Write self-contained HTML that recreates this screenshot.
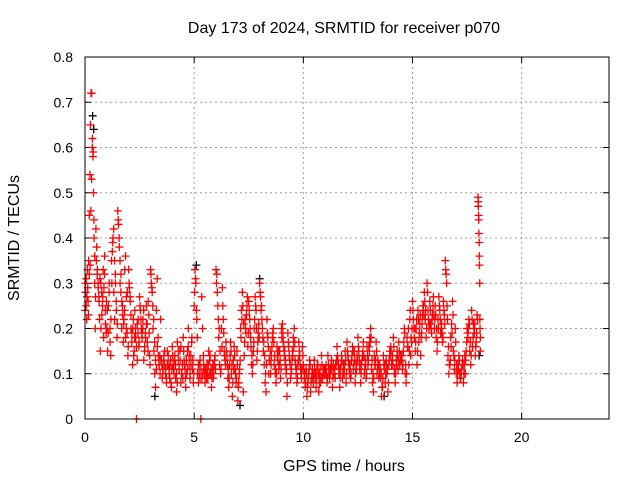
<!DOCTYPE html>
<html><head><meta charset="utf-8">
<style>
html,body{margin:0;padding:0;background:#fff;}
svg{display:block;font-family:"Liberation Sans",sans-serif;}
</style></head>
<body>
<svg id="chart" width="640" height="480" viewBox="0 0 640 480">
<text x="344" y="33" font-size="16" text-anchor="middle">Day 173 of 2024, SRMTID for receiver p070</text>
<text x="19" y="238" font-size="16" text-anchor="middle" transform="rotate(-90 19 238)">SRMTID / TECUs</text>
<text x="344" y="471" font-size="16" text-anchor="middle">GPS time / hours</text>
<g id="grid"></g>
<g id="ticks"></g>
<g id="black-series"></g>
<g id="red-series"></g>
<rect x="85" y="57" width="524" height="362" fill="none" stroke="#000" stroke-width="1"/>
</svg>
<script>
const xTicks = [0,5,10,15,20];
const yTicks = [0,0.1,0.2,0.3,0.4,0.5,0.6,0.7,0.8];
const binWidth = 0.5;
// red series values (first pass), half-hour bins starting at 0h
const redBins = [
 [0.24,0.28,0.31,0.22,0.33,0.26,0.35,0.45,0.54,0.65,0.72,0.72,0.6,0.58,0.5,0.4,0.3,0.2],
 [0.42,0.38,0.33,0.3,0.27,0.22,0.15,0.3,0.28,0.25,0.33,0.29,0.36,0.24,0.19],
 [0.2,0.15,0.25,0.3,0.2,0.14,0.35,0.37,0.4,0.28,0.22,0.32,0.26,0.18],
 [0.46,0.43,0.38,0.3,0.28,0.2,0.25,0.17,0.22,0.33,0.36,0.27,0.19,0.14],
 [0.33,0.29,0.26,0.2,0.17,0.12,0.22,0.15,0.24,0.18,0.0,0.21,0.19,0.16],
 [0.27,0.24,0.2,0.18,0.22,0.13,0.16,0.19,0.25,0.21,0.15,0.23,0.14],
 [0.33,0.3,0.28,0.2,0.15,0.1,0.07,0.24,0.31,0.18,0.12,0.14,0.22],
 [0.13,0.09,0.11,0.14,0.12,0.1,0.08,0.15,0.12,0.11,0.09,0.13,0.07],
 [0.16,0.12,0.1,0.14,0.09,0.06,0.17,0.13,0.11,0.15,0.08,0.1,0.12],
 [0.18,0.13,0.11,0.07,0.1,0.15,0.2,0.12,0.09,0.14,0.17,0.11,0.08],
 [0.25,0.33,0.3,0.22,0.1,0.08,0.12,0.09,0.0,0.27,0.2,0.14,0.11],
 [0.08,0.1,0.12,0.09,0.15,0.13,0.1,0.07,0.11,0.09,0.12,0.14],
 [0.33,0.32,0.25,0.18,0.12,0.1,0.2,0.29,0.22,0.15,0.13,0.17],
 [0.14,0.09,0.07,0.12,0.17,0.1,0.05,0.13,0.16,0.11,0.08,0.15],
 [0.04,0.08,0.11,0.2,0.24,0.28,0.06,0.14,0.22,0.19,0.25,0.16],
 [0.26,0.22,0.18,0.12,0.1,0.15,0.2,0.27,0.24,0.13,0.17,0.21],
 [0.3,0.27,0.25,0.2,0.15,0.12,0.08,0.06,0.22,0.18,0.1,0.13],
 [0.1,0.14,0.18,0.2,0.12,0.1,0.08,0.16,0.13,0.11,0.15,0.09],
 [0.2,0.21,0.17,0.14,0.12,0.1,0.05,0.19,0.16,0.13,0.09,0.11],
 [0.15,0.18,0.2,0.13,0.1,0.08,0.12,0.17,0.14,0.11,0.09,0.16],
 [0.12,0.09,0.07,0.11,0.05,0.08,0.1,0.13,0.06,0.09,0.11,0.08],
 [0.13,0.09,0.07,0.11,0.12,0.06,0.1,0.08,0.14,0.09,0.11,0.1],
 [0.1,0.12,0.08,0.14,0.1,0.09,0.11,0.13,0.07,0.12,0.1,0.09],
 [0.12,0.16,0.13,0.1,0.07,0.11,0.14,0.09,0.12,0.1,0.15,0.08],
 [0.17,0.14,0.12,0.1,0.09,0.13,0.16,0.11,0.15,0.08,0.12,0.14],
 [0.18,0.15,0.11,0.08,0.12,0.14,0.17,0.1,0.13,0.09,0.16,0.12],
 [0.16,0.18,0.2,0.11,0.08,0.06,0.14,0.12,0.17,0.1,0.13,0.09],
 [0.12,0.09,0.05,0.07,0.14,0.11,0.08,0.13,0.1,0.06,0.12,0.15],
 [0.16,0.12,0.14,0.18,0.1,0.08,0.13,0.15,0.11,0.17,0.12,0.14],
 [0.13,0.11,0.15,0.2,0.1,0.08,0.18,0.16,0.12,0.22,0.14,0.17],
 [0.26,0.22,0.18,0.15,0.2,0.12,0.24,0.17,0.21,0.14,0.19,0.23],
 [0.25,0.28,0.22,0.18,0.3,0.24,0.2,0.26,0.21,0.19,0.23,0.27],
 [0.2,0.25,0.18,0.15,0.22,0.27,0.24,0.19,0.21,0.17,0.26,0.23],
 [0.35,0.32,0.25,0.14,0.1,0.12,0.18,0.21,0.26,0.15,0.11,0.2],
 [0.1,0.08,0.12,0.14,0.1,0.09,0.11,0.13,0.08,0.12,0.1,0.15],
 [0.2,0.18,0.22,0.15,0.12,0.24,0.16,0.21,0.19,0.14,0.17,0.23],
 [0.49,0.48,0.45,0.41,0.39,0.34,0.3,0.2,0.15]
];
// red series values (second pass, offset within each bin)
const redBinsB = [
 [0.3,0.25,0.27,0.29,0.23,0.32,0.34,0.46,0.53,0.62,0.59,0.44,0.36,0.27],
 [0.35,0.32,0.29,0.26,0.31,0.2,0.23,0.27,0.18,0.32,0.21,0.26],
 [0.24,0.19,0.28,0.17,0.22,0.3,0.39,0.42,0.35,0.3,0.24,0.21],
 [0.44,0.4,0.35,0.32,0.26,0.23,0.21,0.24,0.18,0.2,0.28,0.16],
 [0.3,0.27,0.23,0.19,0.2,0.14,0.18,0.2,0.16,0.13,0.22,0.17],
 [0.25,0.22,0.19,0.2,0.24,0.15,0.18,0.21,0.17,0.26,0.19,0.12],
 [0.32,0.29,0.25,0.22,0.17,0.13,0.11,0.16,0.14,0.12,0.1,0.13],
 [0.12,0.1,0.13,0.15,0.11,0.09,0.12,0.14,0.1,0.12,0.08,0.11],
 [0.14,0.11,0.13,0.12,0.1,0.08,0.15,0.11,0.13,0.16,0.1,0.09],
 [0.15,0.12,0.09,0.13,0.11,0.16,0.14,0.1,0.12,0.18,0.13,0.1],
 [0.28,0.31,0.24,0.18,0.12,0.1,0.13,0.11,0.09,0.1,0.12,0.1],
 [0.11,0.09,0.1,0.12,0.1,0.14,0.11,0.09,0.12,0.1,0.13,0.11],
 [0.3,0.28,0.22,0.2,0.15,0.11,0.16,0.25,0.19,0.14,0.12,0.15],
 [0.12,0.11,0.09,0.14,0.15,0.12,0.08,0.11,0.14,0.1,0.09,0.12],
 [0.07,0.1,0.13,0.18,0.22,0.25,0.21,0.17,0.2,0.23,0.27,0.19],
 [0.24,0.2,0.16,0.14,0.12,0.17,0.22,0.25,0.2,0.15,0.19,0.18],
 [0.28,0.24,0.22,0.18,0.17,0.14,0.1,0.12,0.19,0.16,0.13,0.15],
 [0.12,0.16,0.19,0.17,0.14,0.11,0.1,0.14,0.15,0.12,0.13,0.11],
 [0.18,0.19,0.16,0.15,0.13,0.11,0.08,0.17,0.14,0.12,0.1,0.13],
 [0.14,0.16,0.17,0.12,0.11,0.09,0.13,0.15,0.12,0.1,0.11,0.14],
 [0.11,0.1,0.08,0.1,0.07,0.09,0.11,0.12,0.08,0.1,0.09,0.1],
 [0.11,0.1,0.09,0.12,0.1,0.08,0.11,0.09,0.12,0.1,0.1,0.11],
 [0.11,0.1,0.09,0.12,0.11,0.1,0.12,0.11,0.09,0.1,0.11,0.12],
 [0.13,0.14,0.12,0.11,0.09,0.12,0.13,0.1,0.11,0.12,0.13,0.1],
 [0.15,0.13,0.11,0.12,0.1,0.14,0.15,0.12,0.13,0.1,0.11,0.13],
 [0.16,0.13,0.12,0.1,0.13,0.15,0.14,0.11,0.12,0.1,0.14,0.13],
 [0.15,0.17,0.18,0.13,0.1,0.09,0.12,0.13,0.15,0.11,0.12,0.1],
 [0.11,0.1,0.07,0.09,0.12,0.12,0.1,0.12,0.11,0.08,0.13,0.14],
 [0.15,0.13,0.12,0.16,0.11,0.1,0.12,0.14,0.13,0.15,0.14,0.13],
 [0.14,0.12,0.17,0.19,0.12,0.1,0.16,0.2,0.15,0.24,0.18,0.2],
 [0.24,0.2,0.2,0.17,0.22,0.15,0.22,0.19,0.23,0.18,0.21,0.25],
 [0.23,0.26,0.24,0.2,0.28,0.22,0.21,0.24,0.2,0.22,0.25,0.23],
 [0.22,0.23,0.2,0.17,0.2,0.25,0.22,0.2,0.19,0.18,0.24,0.21],
 [0.33,0.3,0.22,0.16,0.12,0.13,0.16,0.19,0.23,0.14,0.13,0.17],
 [0.12,0.1,0.11,0.13,0.09,0.1,0.12,0.12,0.1,0.14,0.13,0.17],
 [0.19,0.2,0.21,0.17,0.14,0.22,0.18,0.2,0.21,0.16,0.19,0.22],
 [0.47,0.44,0.36,0.22,0.18]
];
const lastBinWidth = 0.12;
const blackTimes = [0.35,0.4,3.2,7.1,8.0,18.05,5.1,13.7];
const blackValues = [0.67,0.64,0.05,0.03,0.31,0.14,0.34,0.05];

const X0=85, X1=609, Y0=419, Y1=57;
const xs = h => X0 + (h/24)*(X1-X0);
const ys = v => Y0 - (v/0.8)*(Y0-Y1);
const NS="http://www.w3.org/2000/svg";
const grid=document.getElementById('grid'), ticks=document.getElementById('ticks');
function mk(tag, attrs, parent){const e=document.createElementNS(NS,tag);for(const k in attrs)e.setAttribute(k,attrs[k]);parent.appendChild(e);return e;}

yTicks.forEach(v=>{
  const y=ys(v);
  if(v>0&&v<0.8){const g=mk('line',{x1:X0,x2:X1,y1:y,y2:y,stroke:'#a0a0a0','stroke-dasharray':'2,3'},grid);
  
  }
  const t=mk('line',{x1:X0,x2:X0+6,y1:y,y2:y,stroke:'#000'},ticks);
  
  
  const t2=mk('line',{x1:X1,x2:X1-6,y1:y,y2:y,stroke:'#000'},ticks);
  
  
  const l=mk('text',{x:X0-12,y:y+5,'font-size':14,'text-anchor':'end'},ticks);
  l.textContent = v===0?'0':v.toFixed(1);
  
  
});
xTicks.forEach(h=>{
  const x=xs(h);
  if(h>0){const g=mk('line',{x1:x,x2:x,y1:Y0,y2:Y1,stroke:'#a0a0a0','stroke-dasharray':'2,3'},grid);
  
  }
  const t=mk('line',{x1:x,x2:x,y1:Y0,y2:Y0-6,stroke:'#000'},ticks);
  
  
  const t2=mk('line',{x1:x,x2:x,y1:Y1,y2:Y1+6,stroke:'#000'},ticks);
  
  
  const l=mk('text',{x:x,y:Y0+23,'font-size':14,'text-anchor':'middle'},ticks);
  l.textContent=String(h);
  
  
});
function plus(h,v,color,parent,name){
  const x=xs(h), y=ys(v);
  const p=mk('path',{d:`M${x-4},${y}H${x+4}M${x},${y-4}V${y+4}`,stroke:color,'stroke-width':1.3,fill:'none'},parent);
  
  
}
const bs=document.getElementById('black-series'), rs=document.getElementById('red-series');
blackTimes.forEach((h,i)=>plus(h,blackValues[i],'#000',bs,'black-point'));
function drawBins(bins, phase){
  bins.forEach((bin,b)=>{
    const w = b===bins.length-1 ? lastBinWidth : binWidth;
    bin.forEach((v,i)=>plus(b*binWidth + (i+phase)*w/bin.length, v, '#ff0000', rs, 'red-point'));
  });
}
drawBins(redBins, 0);
drawBins(redBinsB, 0.5);
</script>
</body></html>
